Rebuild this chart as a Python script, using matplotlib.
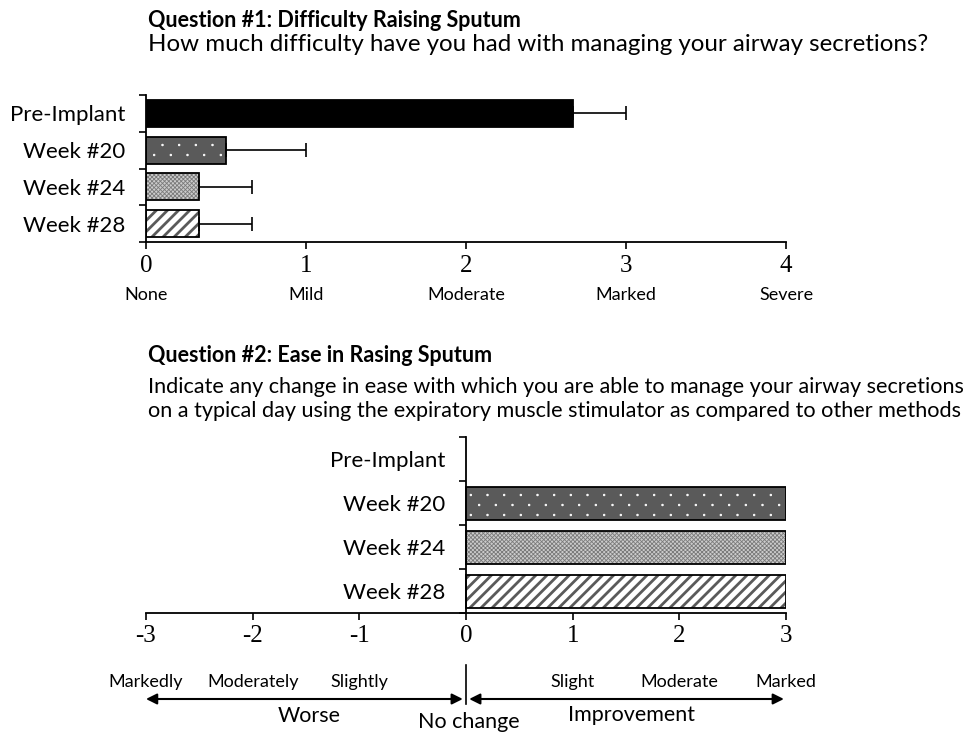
import matplotlib
matplotlib.use("Agg")
import matplotlib.pyplot as plt
import matplotlib.transforms as mtransforms
import matplotlib.hatch as mhatch
from matplotlib.path import Path
from matplotlib.lines import Line2D
import numpy as np

# ---------------- data ----------------
categories = ['Pre-Implant', 'Week #20', 'Week #24', 'Week #28']
q1_means = [2.67, 0.5, 0.33, 0.33]
q1_err = [0.33, 0.5, 0.33, 0.33]
q1_ticks = [0, 1, 2, 3, 4]
q1_tick_words = ['None', 'Mild', 'Moderate', 'Marked', 'Severe']

q2_means = [0, 3, 3, 3]
q2_ticks = [-3, -2, -1, 0, 1, 2, 3]
q2_tick_words = ['Markedly', 'Moderately', 'Slightly', '', 'Slight', 'Moderate', 'Marked']

q1_title = 'Question #1: Difficulty Raising Sputum'
q1_sub = 'How much difficulty have you had with managing your airway secretions?'
q2_title = 'Question #2: Ease in Rasing Sputum'
q2_sub1 = 'Indicate any change in ease with which you are able to manage your airway secretions'
q2_sub2 = 'on a typical day using the expiratory muscle stimulator as compared to other methods'


# small staggered white-dot texture for the '.' hatch
class DotHatch(mhatch.HatchPatternBase):
    def __init__(self, hatch, density):
        n = hatch.count('.')
        self.nx, self.ny = 6 * n, 10 * n
        circ = Path.unit_circle()
        self.cv, self.cc = circ.vertices, circ.codes
        self.num_vertices = self.nx * self.ny * len(self.cv) if n else 0

    def set_vertices_and_codes(self, vertices, codes):
        k = len(self.cv)
        idx = 0
        for j in range(self.ny):
            for i in range(self.nx):
                cx = (i + 0.25 + 0.5 * (j % 2)) / self.nx
                cy = (j + 0.5) / self.ny
                vertices[idx:idx + k] = self.cv * 0.008 + (cx, cy)
                codes[idx:idx + k] = self.cc
                idx += k


mhatch._hatch_types[mhatch._hatch_types.index(mhatch.SmallFilledCircles)] = DotHatch

# ---------------- styles ----------------
SANS = ['Lato', 'DejaVu Sans']
SERIF = ['Liberation Serif', 'DejaVu Serif']
styles = [
    dict(face='black', hatch=None, hcolor='black', hlw=1.0),
    dict(face='#5a5a5a', hatch='.', hcolor='white', hlw=0.6),
    dict(face='#cccccc', hatch='xxxxxxxx', hcolor='#7a7a7a', hlw=0.6),
    dict(face='white', hatch='///', hcolor='#5a5a5a', hlw=2.0),
]

W, H = 973, 734
fig = plt.figure(figsize=(W / 100, H / 100), dpi=100)


def fy(py):
    return 1 - py / H


def fx(px):
    return px / W


def draw_bars(ax, vals, height):
    for i, (v, st) in enumerate(zip(vals, styles)):
        if v == 0:
            continue
        with plt.rc_context({'hatch.linewidth': st['hlw'], 'hatch.color': st['hcolor']}):
            ax.barh(i, v, height=height, color=st['face'], hatch=st['hatch'],
                    edgecolor=st['hcolor'], linewidth=0, zorder=2)
        ax.barh(i, v, height=height, fill=False, edgecolor='black', linewidth=1.3, zorder=3)


def setup_axes(ax):
    for s in ['top', 'right']:
        ax.spines[s].set_visible(False)
    for s in ['left', 'bottom']:
        ax.spines[s].set_linewidth(1.3)
    ax.set_ylim(3.5, -0.5)
    ax.set_yticks(range(len(categories)))
    ax.set_yticklabels(categories, fontsize=16, family=SANS)
    ax.tick_params(axis='y', which='major', length=0, pad=15)
    ax.set_yticks(np.arange(-0.5, len(categories), 1.0), minor=True)
    ax.tick_params(axis='y', which='minor', length=5, width=1.2, direction='out')
    ax.tick_params(axis='x', length=5, width=1.2, direction='out', labelsize=18, pad=4)
    for lab in ax.get_xticklabels():
        lab.set_family(SERIF)


# ---------------- chart 1 ----------------
ax1 = fig.add_axes([fx(146), fy(242), fx(640), (242 - 95) / H])
draw_bars(ax1, q1_means, 0.74)
ax1.errorbar(q1_means, range(len(categories)), xerr=[np.zeros(len(q1_err)), q1_err],
             fmt='none', ecolor='black', elinewidth=1.2, capsize=5, capthick=1.2, zorder=4)
ax1.set_xlim(0, 4)
ax1.set_xticks(q1_ticks)
ax1.set_xticklabels([str(t) for t in q1_ticks])
setup_axes(ax1)
tr1 = mtransforms.blended_transform_factory(ax1.transData, fig.transFigure)
for t, w in zip(q1_ticks, q1_tick_words):
    ax1.text(t, fy(295), w, transform=tr1, ha='center', va='center', fontsize=13, family=SANS)

fig.text(fx(148), fy(27), q1_title, fontsize=15.5, fontweight='bold', family=SANS, va='baseline')
fig.text(fx(148), fy(51), q1_sub, fontsize=17.4, family=SANS, va='baseline')

# ---------------- chart 2 ----------------
ax2 = fig.add_axes([fx(146), fy(613), fx(640), (613 - 437) / H])
draw_bars(ax2, q2_means, 0.75)
ax2.set_xlim(-3, 3)
ax2.set_xticks(q2_ticks)
ax2.set_xticklabels([str(t) for t in q2_ticks])
ax2.spines['left'].set_position(('data', 0))
setup_axes(ax2)
tr2 = mtransforms.blended_transform_factory(ax2.transData, fig.transFigure)
for t, w in zip(q2_ticks, q2_tick_words):
    if w:
        ax2.text(t, fy(682), w, transform=tr2, ha='center', va='center', fontsize=13, family=SANS)

ax2.add_line(Line2D([0, 0], [fy(665), fy(704)], transform=tr2, color='black', lw=1.2, clip_on=False))
ax2.annotate('', xy=(-3, fy(699)), xytext=(-0.03, fy(699)), xycoords=tr2, textcoords=tr2,
             arrowprops=dict(arrowstyle='<|-|>', color='black', lw=1.5, mutation_scale=16,
                             shrinkA=0, shrinkB=0), annotation_clip=False)
ax2.annotate('', xy=(0.03, fy(699)), xytext=(2.98, fy(699)), xycoords=tr2, textcoords=tr2,
             arrowprops=dict(arrowstyle='<|-|>', color='black', lw=1.5, mutation_scale=16,
                             shrinkA=0, shrinkB=0), annotation_clip=False)
ax2.text(-1.47, fy(716), 'Worse', transform=tr2, ha='center', va='center', fontsize=15.5, family=SANS)
ax2.text(0.03, fy(722), 'No change', transform=tr2, ha='center', va='center', fontsize=15.5, family=SANS)
ax2.text(1.55, fy(715), 'Improvement', transform=tr2, ha='center', va='center', fontsize=15.5, family=SANS)

fig.text(fx(148), fy(362), q2_title, fontsize=15.5, fontweight='bold', family=SANS, va='baseline')
fig.text(fx(148), fy(393), q2_sub1, fontsize=15.6, family=SANS, va='baseline')
fig.text(fx(148), fy(417), q2_sub2, fontsize=15.6, family=SANS, va='baseline')

fig.savefig('out.png', dpi=100)
